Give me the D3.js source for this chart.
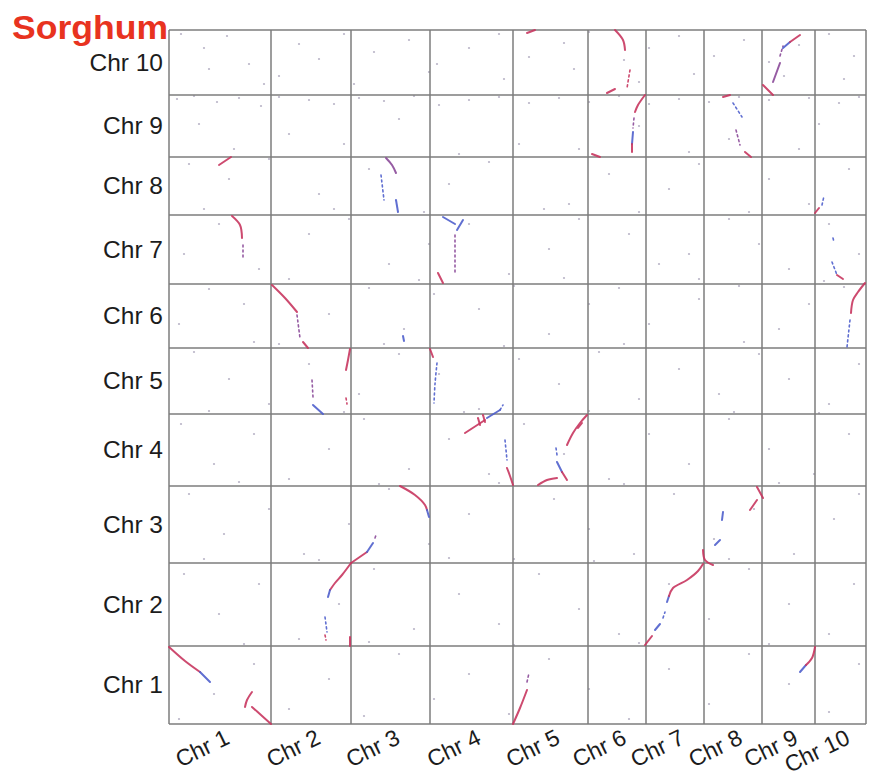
<!DOCTYPE html>
<html>
<head>
<meta charset="utf-8">
<script src="https://cdn.jsdelivr.net/npm/d3@7"></script>
<style>
  html, body { margin: 0; padding: 0; background: #fff; }
  svg { display: block; font-family: "Liberation Sans", Arial, sans-serif; }
</style>
</head>
<body>
<svg id="chart"></svg>
<script>
// chromosome names and lengths (Mb-ish units)
const xChroms = ['Chr 1', 'Chr 2', 'Chr 3', 'Chr 4', 'Chr 5', 'Chr 6', 'Chr 7', 'Chr 8', 'Chr 9', 'Chr 10'];
const xLengths = [102, 80, 79, 83, 75, 58, 58, 58, 53, 51];
const yChroms = ['Chr 1', 'Chr 2', 'Chr 3', 'Chr 4', 'Chr 5', 'Chr 6', 'Chr 7', 'Chr 8', 'Chr 9', 'Chr 10'];
const yLengths = [78, 83, 77, 72, 66, 64, 69, 58, 62, 65];

// syntenic blocks, genome-wide positions [x, y]; c: r=red, b=blue, p=purple; d: dotted
const blocks = [
  { c: 'r', pts: [[0, 77], [16, 63], [31, 52]] },
  { c: 'b', pts: [[31, 52], [41, 42]] },
  { c: 'r', pts: [[83, 32], [78, 24], [76, 17]] },
  { c: 'r', pts: [[83, 17], [92, 9], [102, 0]] },
  { c: 'r', pts: [[344, 0], [351, 16], [358, 34]] },
  { c: 'p', d: true, pts: [[358, 42], [360, 51]] },
  { c: 'b', pts: [[631, 52], [637, 59]] },
  { c: 'r', pts: [[637, 59], [643, 66], [646, 77]] },

  { c: 'r', pts: [[182, 161], [173, 149], [166, 141], [161, 134]] },
  { c: 'b', pts: [[161, 134], [159, 127]] },
  { c: 'b', d: true, pts: [[156, 107], [158, 92]] },
  { c: 'r', d: true, pts: [[156, 89], [157, 84]] },
  { c: 'r', pts: [[181, 87], [181, 78]] },
  { c: 'r', pts: [[476, 79], [483, 88]] },
  { c: 'b', pts: [[486, 94], [491, 100]] },
  { c: 'b', d: true, pts: [[494, 106], [496, 112]] },
  { c: 'b', pts: [[498, 122], [500, 128]] },
  { c: 'r', pts: [[500, 128], [504, 136], [518, 144], [529, 153], [534, 160]] },

  { c: 'r', pts: [[182, 161], [198, 172]] },
  { c: 'b', pts: [[198, 172], [204, 181]] },
  { c: 'p', d: true, pts: [[206, 186], [207, 189]] },
  { c: 'r', pts: [[231, 238], [246, 229], [256, 219], [258, 214]] },
  { c: 'b', pts: [[258, 214], [260, 207]] },
  { c: 'r', pts: [[534, 174], [536, 164], [544, 159]] },
  { c: 'b', pts: [[546, 179], [551, 184]] },
  { c: 'b', pts: [[553, 204], [554, 212]] },
  { c: 'r', pts: [[581, 214], [588, 224]] },
  { c: 'r', pts: [[588, 237], [594, 226]] },

  { c: 'r', pts: [[296, 291], [316, 304]] },
  { c: 'r', pts: [[309, 306], [311, 299]] },
  { c: 'r', pts: [[314, 309], [316, 302]] },
  { c: 'b', pts: [[318, 306], [331, 314]] },
  { c: 'b', d: true, pts: [[331, 314], [334, 319]] },
  { c: 'b', d: true, pts: [[336, 284], [338, 264]] },
  { c: 'r', pts: [[338, 256], [341, 248], [344, 239]] },
  { c: 'r', pts: [[369, 239], [378, 244], [388, 246]] },
  { c: 'b', pts: [[388, 262], [393, 252]] },
  { c: 'r', pts: [[393, 252], [398, 244]] },
  { c: 'b', d: true, pts: [[387, 276], [388, 269]] },
  { c: 'r', pts: [[398, 279], [404, 291], [411, 301], [418, 309]] },
  { c: 'r', pts: [[409, 296], [413, 301]] },

  { c: 'b', pts: [[144, 319], [154, 310]] },
  { c: 'p', d: true, pts: [[143, 344], [144, 327]] },
  { c: 'r', pts: [[181, 375], [179, 364], [177, 354]] },
  { c: 'r', d: true, pts: [[177, 326], [178, 320]] },
  { c: 'r', pts: [[261, 375], [264, 367]] },
  { c: 'b', d: true, pts: [[268, 361], [266, 340], [265, 321]] },

  { c: 'r', pts: [[103, 439], [116, 426], [128, 412]] },
  { c: 'p', d: true, pts: [[128, 409], [131, 386]] },
  { c: 'r', pts: [[134, 382], [139, 376]] },
  { c: 'b', pts: [[234, 388], [235, 383]] },
  { c: 'r', pts: [[696, 441], [689, 432], [684, 424], [682, 411]] },
  { c: 'b', d: true, pts: [[681, 404], [678, 377]] },

  { c: 'r', pts: [[63, 508], [71, 499], [73, 486]] },
  { c: 'p', d: true, pts: [[74, 479], [74, 466]] },
  { c: 'b', pts: [[274, 507], [286, 500]] },
  { c: 'b', pts: [[288, 494], [294, 504]] },
  { c: 'p', d: true, pts: [[286, 489], [286, 449]] },
  { c: 'r', pts: [[269, 451], [274, 441]] },
  { c: 'b', d: true, pts: [[663, 462], [668, 449]] },
  { c: 'r', pts: [[668, 449], [674, 445]] },
  { c: 'b', d: true, pts: [[664, 486], [665, 482]] },

  { c: 'r', pts: [[50, 559], [62, 567]] },
  { c: 'p', pts: [[217, 566], [223, 559], [227, 551]] },
  { c: 'b', d: true, pts: [[212, 549], [215, 524]] },
  { c: 'b', pts: [[227, 524], [229, 512]] },
  { c: 'r', pts: [[646, 511], [650, 516]] },
  { c: 'b', d: true, pts: [[653, 519], [655, 528]] },

  { c: 'r', pts: [[476, 629], [469, 619], [466, 612]] },
  { c: 'p', d: true, pts: [[465, 606], [464, 596]] },
  { c: 'b', pts: [[464, 592], [463, 580]] },
  { c: 'r', pts: [[463, 580], [463, 572]] },
  { c: 'r', pts: [[423, 570], [431, 567]] },
  { c: 'r', pts: [[554, 627], [561, 629]] },
  { c: 'b', d: true, pts: [[564, 621], [573, 607]] },
  { c: 'p', d: true, pts: [[567, 594], [571, 579]] },
  { c: 'r', pts: [[576, 572], [582, 567]] },

  { c: 'r', pts: [[438, 631], [446, 635]] },
  { c: 'r', pts: [[358, 691], [366, 694]] },
  { c: 'r', pts: [[446, 694], [454, 684], [456, 674]] },
  { c: 'r', d: true, pts: [[461, 654], [458, 636]] },
  { c: 'r', pts: [[594, 639], [604, 629]] },
  { c: 'p', pts: [[604, 642], [611, 661]] },
  { c: 'p', d: true, pts: [[611, 668], [614, 678]] },
  { c: 'b', pts: [[614, 676], [621, 682]] },
  { c: 'r', pts: [[621, 682], [631, 689]] }
];

// scattered background hits, genome-wide positions [x, y]
const noiseDots = [
  [12, 690], [35, 676], [58, 688], [80, 660], [95, 640], [130, 680], [150, 665], [175, 690], [205, 672],
  [240, 684], [268, 660], [300, 676], [330, 690], [360, 667], [395, 681], [420, 692], [455, 664],
  [480, 676], [510, 688], [545, 668], [575, 684], [600, 662], [630, 679], [660, 690], [685, 668],
  [8, 625], [25, 628], [48, 622], [70, 626], [92, 618], [110, 627], [140, 624], [165, 620], [190, 626],
  [215, 623], [245, 628], [270, 619], [300, 624], [330, 627], [360, 621], [390, 626], [420, 622],
  [450, 628], [480, 620], [510, 625], [540, 622], [570, 627], [600, 624], [640, 626], [670, 621],
  [690, 627], [30, 600], [120, 590], [230, 605], [350, 580], [470, 598], [560, 585], [650, 600],
  [20, 560], [60, 545], [100, 565], [150, 530], [200, 555], [280, 540], [320, 562], [400, 520],
  [440, 550], [500, 535], [530, 560], [600, 545], [640, 520], [680, 555],
  [15, 470], [50, 500], [90, 455], [140, 490], [180, 505], [220, 460], [260, 480], [300, 500],
  [340, 450], [380, 475], [410, 505], [460, 490], [490, 460], [520, 470], [560, 505], [590, 480],
  [620, 455], [660, 500], [690, 470],
  [10, 400], [40, 435], [75, 420], [110, 380], [160, 410], [200, 436], [235, 395], [265, 430],
  [310, 415], [345, 438], [380, 390], [420, 420], [450, 436], [480, 400], [530, 425], [570, 438],
  [610, 395], [640, 420], [675, 437],
  [25, 372], [60, 345], [100, 320], [140, 360], [190, 330], [230, 370], [270, 350], [310, 315],
  [350, 365], [390, 340], [430, 372], [470, 325], [510, 355], [550, 330], [590, 370], [620, 345],
  [660, 320], [690, 360],
  [12, 300], [45, 260], [85, 290], [120, 245], [160, 275], [195, 305], [240, 255], [280, 285],
  [320, 250], [355, 300], [395, 270], [440, 245], [480, 290], [520, 260], [560, 305], [600, 275],
  [645, 250], [680, 290],
  [20, 230], [55, 190], [100, 215], [135, 170], [180, 200], [220, 235], [260, 180], [300, 210],
  [345, 165], [385, 225], [420, 195], [465, 170], [505, 230], [545, 185], [585, 215], [625, 170],
  [665, 205], [690, 230],
  [15, 150], [50, 110], [90, 140], [130, 85], [170, 120], [205, 155], [245, 95], [290, 130],
  [330, 100], [370, 150], [410, 115], [450, 90], [500, 140], [540, 105], [580, 155], [620, 120],
  [660, 90], [685, 140],
  [10, 5], [45, 30], [85, 60], [120, 15], [160, 45], [195, 8], [230, 70], [265, 25], [300, 50],
  [340, 10], [380, 65], [420, 35], [460, 5], [500, 55], [540, 20], [580, 70], [620, 40], [660, 12],
  [690, 60],
  [40, 655], [110, 648], [185, 640], [260, 652], [335, 645], [405, 655], [470, 642], [525, 650],
  [615, 648], [675, 645], [65, 575], [175, 580], [290, 570], [410, 575], [520, 572], [630, 575],
  [35, 515], [165, 515], [255, 512], [375, 515], [470, 512], [580, 512], [120, 445], [250, 444],
  [395, 446], [530, 445], [655, 443], [85, 382], [215, 380], [335, 378], [455, 380], [575, 382],
  [40, 313], [175, 312], [295, 312], [420, 313], [565, 312], [650, 311], [70, 242], [210, 240],
  [330, 241], [455, 240], [610, 241], [35, 165], [150, 164], [280, 166], [425, 163], [560, 165],
  [75, 80], [200, 82], [345, 79], [470, 81], [600, 80]
];

const width = 869, height = 778;
const margin = { top: 30, right: 3, bottom: 54, left: 169 };
const colors = { r: '#c8365f', b: '#4f5fcc', p: '#8b4a99' };

const svg = d3.select('#chart')
  .attr('width', width)
  .attr('height', height);

const xTotal = d3.sum(xLengths);
const yTotal = d3.sum(yLengths);

const x = d3.scaleLinear()
  .domain([0, xTotal])
  .range([margin.left, width - margin.right]);

const y = d3.scaleLinear()
  .domain([0, yTotal])
  .range([height - margin.bottom, margin.top]);

const xEdges = [0, ...d3.cumsum(xLengths)];
const yEdges = [0, ...d3.cumsum(yLengths)];

// background dots
svg.append('g')
  .attr('fill', '#8a82a2')
  .attr('fill-opacity', 0.6)
  .selectAll('circle')
  .data(noiseDots)
  .join('circle')
    .attr('cx', d => x(d[0]))
    .attr('cy', d => y(d[1]))
    .attr('r', 1.1);

// grid
const grid = svg.append('g')
  .attr('stroke', '#7d7d7d')
  .attr('stroke-width', 1.5);

grid.selectAll('.vline')
  .data(xEdges)
  .join('line')
    .attr('class', 'vline')
    .attr('x1', d => x(d)).attr('x2', d => x(d))
    .attr('y1', y(0)).attr('y2', y(yTotal));

grid.selectAll('.hline')
  .data(yEdges)
  .join('line')
    .attr('class', 'hline')
    .attr('y1', d => y(d)).attr('y2', d => y(d))
    .attr('x1', x(0)).attr('x2', x(xTotal));

// syntenic blocks
const line = d3.line()
  .x(d => x(d[0]))
  .y(d => y(d[1]))
  .curve(d3.curveCatmullRom);

svg.append('g')
  .attr('fill', 'none')
  .attr('stroke-linecap', 'round')
  .selectAll('path')
  .data(blocks)
  .join('path')
    .attr('d', d => line(d.pts))
    .attr('stroke', d => colors[d.c])
    .attr('stroke-width', d => d.d ? 1.6 : 2)
    .attr('stroke-dasharray', d => d.d ? '2,3' : null)
    .attr('stroke-opacity', 0.9);

// y labels
svg.append('g')
  .selectAll('text')
  .data(yChroms)
  .join('text')
    .attr('x', margin.left - 6)
    .attr('y', (d, i) => y((yEdges[i] + yEdges[i + 1]) / 2))
    .attr('dy', '0.33em')
    .attr('text-anchor', 'end')
    .attr('font-size', 24.5)
    .attr('fill', '#1c1c1c')
    .text(d => d);

// x labels, rotated
svg.append('g')
  .selectAll('text')
  .data(xChroms)
  .join('text')
    .attr('transform', (d, i) => {
      const cx = x((xEdges[i] + xEdges[i + 1]) / 2) + 11;
      return `translate(${cx},743) rotate(-26)`;
    })
    .attr('text-anchor', 'end')
    .attr('font-size', 23)
    .attr('fill', '#1c1c1c')
    .text(d => d);

// title
svg.append('text')
  .attr('x', 12)
  .attr('y', 39)
  .attr('font-size', 33)
  .attr('font-weight', 'bold')
  .attr('fill', '#e8331f')
  .attr('textLength', 156)
  .attr('lengthAdjust', 'spacingAndGlyphs')
  .text('Sorghum');
</script>
</body>
</html>
